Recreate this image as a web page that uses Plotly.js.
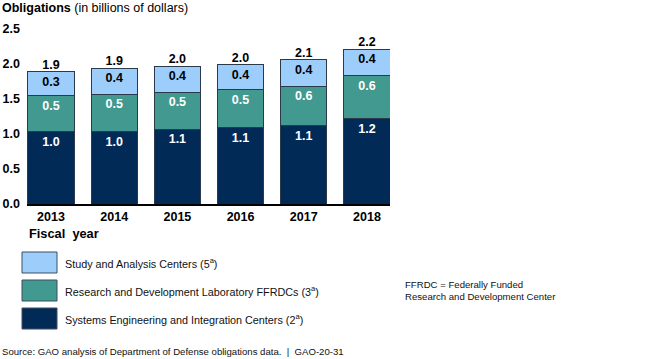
<!DOCTYPE html>
<html><head><meta charset="utf-8">
<script src="https://cdn.plot.ly/plotly-3.0.1.min.js"></script>
<style>html,body{margin:0;padding:0;background:#fff}#c{width:650px;height:359px}</style>
</head><body><div id="c"></div>
<script>
const years = ['2013','2014','2015','2016','2017','2018'];
const systemsEng = [1.03, 1.03, 1.07, 1.09, 1.12, 1.22];
const researchDev = [0.52, 0.54, 0.53, 0.54, 0.56, 0.61];
const studyAnalysis = [0.34, 0.37, 0.37, 0.36, 0.38, 0.38];
const seriesNames = ['Systems Engineering and Integration Centers (2<sup>a</sup>)',
  'Research and Development Laboratory FFRDCs (3<sup>a</sup>)',
  'Study and Analysis Centers (5<sup>a</sup>)'];
const colors = ['#022a57', '#41998f', '#9dcdfb'];
const totals = years.map((_, i) => systemsEng[i] + researchDev[i] + studyAnalysis[i]);

const W = 650, H = 359;
const M = {l: 27, r: 260, t: 29, b: 155};
const pw = W - M.l - M.r, ph = H - M.t - M.b;
const PX = x => (x - M.l) / pw;
const PY = y => (H - M.b - y) / ph;
const FONT = 'Liberation Sans, Arial, sans-serif';

function barTrace(vals, name, color, txtColor) {
  return {type: 'bar', x: years, y: vals, name: name,
    marker: {color: color, line: {color: '#2b3a4a', width: 1}},
    text: vals.map(v => v.toFixed(1)), textposition: 'inside', insidetextanchor: 'end',
    textangle: 0, constraintext: 'none',
    textfont: {family: FONT, size: 12.5, color: txtColor, weight: 'bold'},
    hoverinfo: 'skip', showlegend: false};
}
const data = [
  barTrace(systemsEng, seriesNames[0], colors[0], '#ffffff'),
  barTrace(researchDev, seriesNames[1], colors[1], '#ffffff'),
  barTrace(studyAnalysis, seriesNames[2], colors[2], '#000000'),
  {type: 'scatter', mode: 'text', x: years, y: totals, text: totals.map(v => v.toFixed(1)),
   textposition: 'top center', textfont: {family: FONT, size: 12.5, color: '#000', weight: 'bold'},
   hoverinfo: 'skip', showlegend: false, cliponaxis: false}
];

const shapes = [], annotations = [];
annotations.push({xref: 'paper', yref: 'paper', x: PX(0), y: PY(8), xanchor: 'left', yanchor: 'middle',
  text: '<b>Obligations</b> (in billions of dollars)', showarrow: false,
  font: {family: FONT, size: 12.5, color: '#000'}});
annotations.push({xref: 'paper', yref: 'paper', x: PX(27), y: PY(233), xanchor: 'left', yanchor: 'middle',
  text: '<b>Fiscal&nbsp;&nbsp;year</b>', showarrow: false, font: {family: FONT, size: 12.8, color: '#000'}});
// legend swatches (top to bottom: study, research, systems)
const legendOrder = [2, 1, 0];
legendOrder.forEach((s, k) => {
  const top = 252 + k * 28;
  shapes.push({type: 'rect', xref: 'paper', yref: 'paper', x0: PX(22), x1: PX(57), y0: PY(top), y1: PY(top + 21),
    fillcolor: colors[s], line: {color: '#3c4f63', width: 1}});
  annotations.push({xref: 'paper', yref: 'paper', x: PX(63), y: PY(top + 10.5), xanchor: 'left', yanchor: 'middle',
    text: seriesNames[s], showarrow: false, font: {family: FONT, size: 10.8, color: '#111'}});
});
annotations.push({xref: 'paper', yref: 'paper', x: PX(403), y: PY(290), xanchor: 'left', yanchor: 'middle', align: 'left',
  text: 'FFRDC = Federally Funded<br>Research and Development Center', showarrow: false,
  font: {family: FONT, size: 9.6, color: '#111'}});
annotations.push({xref: 'paper', yref: 'paper', x: PX(0), y: PY(351), xanchor: 'left', yanchor: 'middle',
  text: 'Source: GAO analysis of Department of Defense obligations data.  |  GAO-20-31', showarrow: false,
  font: {family: FONT, size: 9.6, color: '#111'}});

const layout = {
  width: W, height: H, margin: M, paper_bgcolor: '#fff', plot_bgcolor: '#fff',
  barmode: 'stack', bargap: 0.27, showlegend: false,
  xaxis: {type: 'category', range: [-0.38, 5.365], showline: true, linecolor: '#000', linewidth: 2,
    ticks: '', showgrid: false, zeroline: false,
    tickfont: {family: FONT, size: 12.5, color: '#000', weight: 'bold'}},
  yaxis: {range: [0, 2.5], tickvals: [0, 0.5, 1, 1.5, 2, 2.5], ticktext: ['0.0','0.5','1.0','1.5','2.0','2.5'],
    showline: false, showgrid: false, zeroline: false, ticks: '', ticklabelstandoff: 6,
    tickfont: {family: FONT, size: 12.5, color: '#000', weight: 'bold'}},
  shapes: shapes, annotations: annotations,
  font: {family: FONT}
};
Plotly.newPlot('c', data, layout, {displayModeBar: false, staticPlot: true});
</script></body></html>
